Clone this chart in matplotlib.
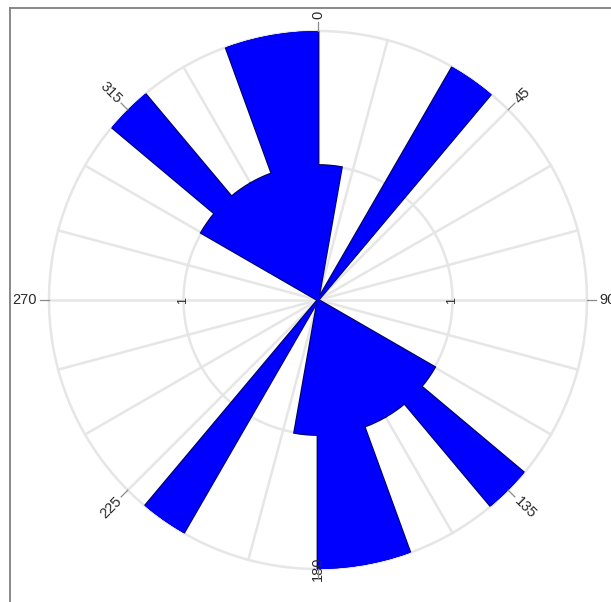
import numpy as np
import matplotlib
matplotlib.use("Agg")
import matplotlib.pyplot as plt
from matplotlib.lines import Line2D

# Rose diagram of axial orientations, 10-degree bins (bin start angle in degrees)
bin_start_deg = [0, 10, 20, 30, 40, 50, 60, 70, 80, 90, 100, 110,
                 120, 130, 140, 150, 160, 170, 180, 190, 200, 210, 220, 230,
                 240, 250, 260, 270, 280, 290, 300, 310, 320, 330, 340, 350]
counts = [1, 0, 0, 2, 0, 0, 0, 0, 0, 0, 0, 0,
          1, 2, 1, 1, 2, 2, 1, 0, 0, 2, 0, 0,
          0, 0, 0, 0, 0, 0, 1, 2, 1, 1, 2, 2]
bin_width_deg = 10

angle_labels = [0, 45, 90, 135, 180, 225, 270, 315]
radial_labels = [1]
r_max = 2
grid_step_deg = 15

plt.rcParams["font.family"] = ["Liberation Sans", "DejaVu Sans"]

fig = plt.figure(figsize=(6.11, 6.02), dpi=100)
fig.patch.set_facecolor("white")
ax = fig.add_axes([0.0802, 0.0548, 0.8805, 0.8937], projection="polar")
ax.set_theta_zero_location("N")
ax.set_theta_direction(-1)
ax.set_ylim(0, r_max)
ax.grid(False)
ax.set_xticks([])
ax.set_yticks([])
ax.spines["polar"].set_visible(False)
ax.patch.set_facecolor("white")

grid_col = "#e6e6e6"
# rings
ring_theta = np.linspace(0, 2 * np.pi, 721)
for r in [1, 2]:
    ax.plot(ring_theta, np.full_like(ring_theta, r), color=grid_col,
            lw=1.8, zorder=1, clip_on=False)
# spokes
for a in range(0, 360, grid_step_deg):
    t = np.deg2rad(a)
    ax.plot([t, t], [0, r_max], color=grid_col, lw=1.8, zorder=1, clip_on=False)

theta = np.deg2rad(np.array(bin_start_deg) + bin_width_deg / 2)
width = np.deg2rad(bin_width_deg)
# outline layer, then fill layer on top so only the outer contour remains
ax.bar(theta, counts, width=width, bottom=0, color="#0000ff",
       edgecolor="#000050", linewidth=2.0, zorder=2)
ax.bar(theta, counts, width=width, bottom=0, color="#0000ff",
       edgecolor="#0000ff", linewidth=0.6, zorder=3)

# angular labels, drawn along the radial direction
for a in angle_labels:
    t = np.deg2rad(a)
    rot = 90 - a
    while rot <= -90:
        rot += 180
    while rot > 90:
        rot -= 180
    ha = "left" if 0 <= a <= 180 else "right"
    ax.plot([t, t], [r_max, r_max * 1.035], color="#8a8a8a", lw=0.9,
            clip_on=False, zorder=4)
    ax.text(t, r_max * 1.045, str(a), rotation=rot, rotation_mode="anchor",
            ha=ha, va="center", fontsize=10.5, color="#2a2a2a", clip_on=False)

# radial labels on the horizontal axis
for r in radial_labels:
    for a in (90, 270):
        ax.text(np.deg2rad(a), r, str(r), rotation=90, ha="center",
                va="center", fontsize=9, color="#2a2a2a", zorder=4)

# frame of the figure panel
fig.add_artist(Line2D([9.5 / 611, 9.5 / 611], [0, 1 - 7.5 / 602],
                      transform=fig.transFigure, color="#808080", lw=1.3))
fig.add_artist(Line2D([9.5 / 611, 1], [1 - 7.5 / 602, 1 - 7.5 / 602],
                      transform=fig.transFigure, color="#808080", lw=1.3))

fig.savefig("out.png", dpi=100, facecolor="white")
